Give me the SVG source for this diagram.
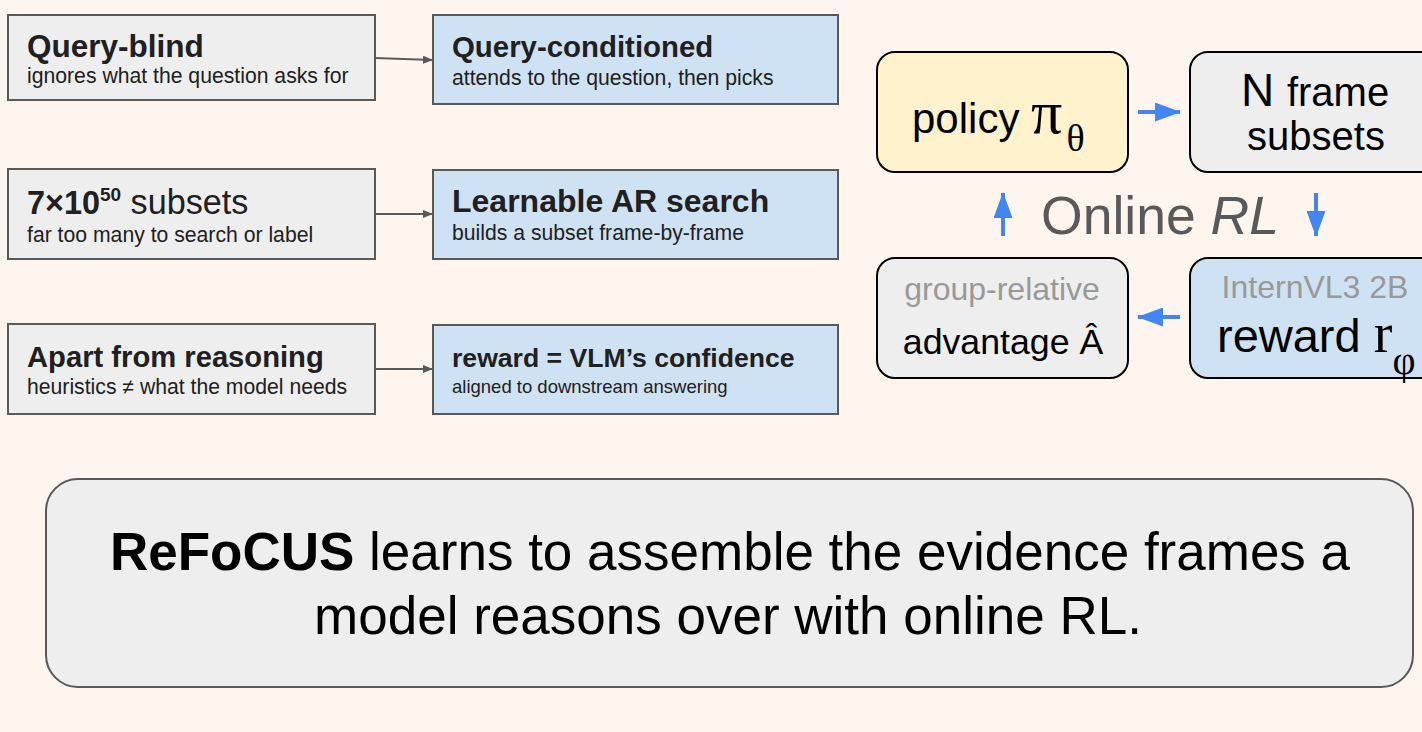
<svg xmlns="http://www.w3.org/2000/svg" width="1422" height="732" viewBox="0 0 1422 732">
<defs>
<style>
text{font-family:"Liberation Sans",Arial,sans-serif;fill:#202020}
.t{font-weight:bold}
.s{font-size:21.2px}
.lb{fill:#eeeeee;stroke:#595959;stroke-width:2}
.rb{fill:#cfe2f3;stroke:#595959;stroke-width:2}
.conn{stroke:#595959;stroke-width:2;fill:none}
.blue{stroke:#4285f4;stroke-width:4;fill:none}
.big{fill:#000}
.ser{font-family:"Liberation Serif","Times New Roman",serif}
</style>
<marker id="ah" markerWidth="10" markerHeight="8" refX="9" refY="4" orient="auto" markerUnits="userSpaceOnUse">
<path d="M0,0 L10,4 L0,8 z" fill="#595959"/>
</marker>
<marker id="bh" markerWidth="26" markerHeight="19" refX="25" refY="9.5" orient="auto" markerUnits="userSpaceOnUse">
<path d="M0,0 L26,9.5 L0,19 z" fill="#4285f4"/>
</marker>
</defs>
<rect width="1422" height="732" fill="#fef5ef"/>

<g id="connectors">
<line class="conn" x1="375" y1="58" x2="432" y2="60" marker-end="url(#ah)"/>
<line class="conn" x1="375" y1="214" x2="432" y2="214" marker-end="url(#ah)"/>
<line class="conn" x1="375" y1="369" x2="432" y2="369" marker-end="url(#ah)"/>
<line class="blue" x1="1138" y1="112" x2="1180" y2="112" marker-end="url(#bh)"/>
<line class="blue" x1="1180" y1="317" x2="1138" y2="317" marker-end="url(#bh)"/>
<line class="blue" x1="1003" y1="236" x2="1003" y2="193" marker-end="url(#bh)"/>
<line class="blue" x1="1316" y1="193" x2="1316" y2="236" marker-end="url(#bh)"/>
</g>

<g id="query-blind">
<rect class="lb" x="8" y="15" width="367" height="85"/>
<text class="t" x="27" y="57" font-size="31.5px">Query-blind</text>
<text class="s" x="27" y="83">ignores what the question asks for</text>
</g>
<g id="query-conditioned">
<rect class="rb" x="433" y="15" width="405" height="89"/>
<text class="t" x="452" y="57" font-size="29.4px">Query-conditioned</text>
<text class="s" x="452" y="85">attends to the question, then picks</text>
</g>
<g id="subsets">
<rect class="lb" x="8" y="169" width="367" height="90"/>
<text x="27" y="214"><tspan font-weight="bold" font-size="32.4px">7×10</tspan><tspan font-weight="bold" font-size="19px" dy="-13">50</tspan><tspan font-size="34.2px" dy="13"> subsets</tspan></text>
<text class="s" x="27" y="242">far too many to search or label</text>
</g>
<g id="ar-search">
<rect class="rb" x="433" y="170" width="405" height="89"/>
<text class="t" x="452" y="212" font-size="32px">Learnable AR search</text>
<text class="s" x="452" y="240">builds a subset frame-by-frame</text>
</g>
<g id="apart">
<rect class="lb" x="8" y="324" width="367" height="90"/>
<text class="t" x="27" y="367" font-size="29.2px">Apart from reasoning</text>
<text class="s" x="27" y="394">heuristics ≠ what the model needs</text>
</g>
<g id="reward-conf">
<rect class="rb" x="433" y="325" width="405" height="89"/>
<text class="t" x="452" y="367" font-size="26.6px">reward = VLM’s confidence</text>
<text x="452" y="393" font-size="18.5px">aligned to downstream answering</text>
</g>

<g id="policy">
<rect x="877" y="52" width="251" height="120" rx="18" fill="#fff2cc" stroke="#000" stroke-width="2"/>
<text class="big" x="912" y="133" font-size="42px">policy <tspan class="ser" font-size="62px">π</tspan><tspan class="ser" font-size="38px" dx="4" dy="18">θ</tspan></text>
</g>
<g id="frame-subsets">
<rect x="1190" y="52" width="250" height="120" rx="18" fill="#eeeeee" stroke="#000" stroke-width="2"/>
<text class="big" x="1315" y="106" text-anchor="middle" font-size="46px">N <tspan font-size="40px">frame</tspan></text>
<text class="big" x="1316" y="150" text-anchor="middle" font-size="40px">subsets</text>
</g>
<g id="advantage">
<rect x="877" y="258" width="251" height="120" rx="18" fill="#eeeeee" stroke="#000" stroke-width="2"/>
<text x="1002" y="300" text-anchor="middle" style="font-size:32px;fill:#999999">group-relative</text>
<text x="1003" y="354" text-anchor="middle" style="font-size:35.7px;fill:#000">advantage Â</text>
</g>
<g id="reward">
<rect x="1190" y="258" width="250" height="120" rx="18" fill="#cfe2f3" stroke="#000" stroke-width="2"/>
<text x="1315" y="298" text-anchor="middle" style="font-size:32px;fill:#999999">InternVL3 2B</text>
<text class="big" x="1217" y="352" font-size="47px">reward <tspan class="ser" font-size="56px">r</tspan><tspan class="ser" font-size="40px" dy="22">φ</tspan></text>
</g>
<g id="online-rl">
<text x="1160" y="234" text-anchor="middle" style="font-size:53.5px;fill:#595959">Online <tspan font-style="italic">RL</tspan></text>
</g>

<g id="summary">
<rect x="46" y="479" width="1367" height="208" rx="32" fill="#eeeeee" stroke="#595959" stroke-width="2"/>
<text x="730" y="570" text-anchor="middle" style="font-size:53px;fill:#000"><tspan font-weight="bold">ReFoCUS</tspan> learns to assemble the evidence frames a</text>
<text x="728" y="634" text-anchor="middle" style="font-size:53px;fill:#000">model reasons over with online RL.</text>
</g>
</svg>
